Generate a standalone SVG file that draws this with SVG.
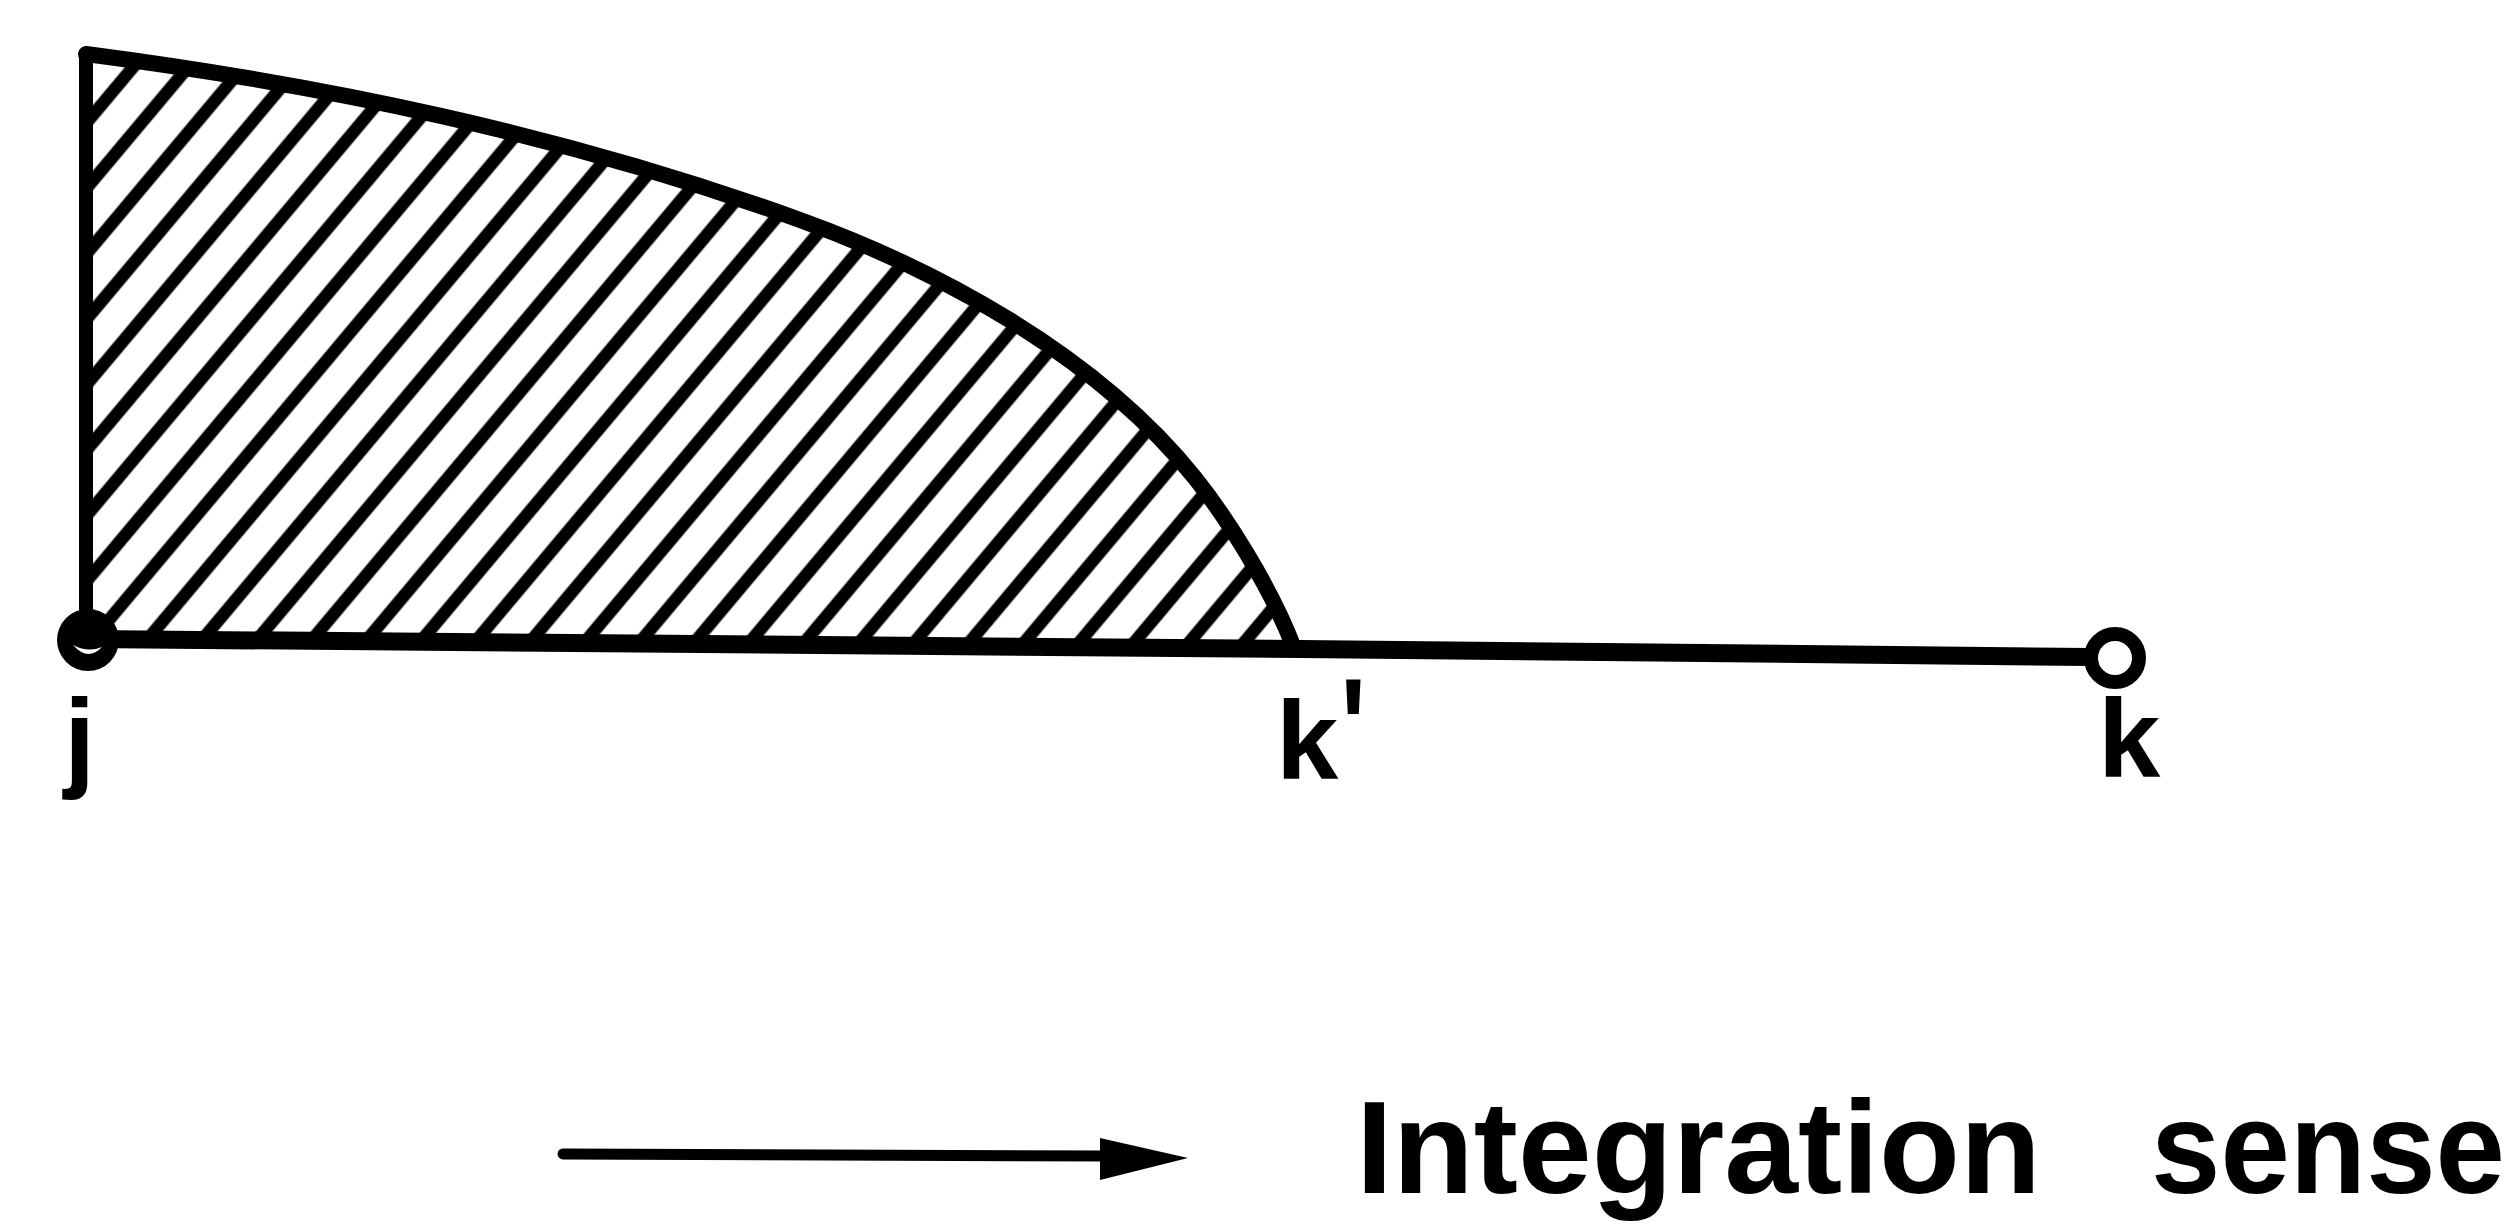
<svg xmlns="http://www.w3.org/2000/svg" width="2520" height="1224" viewBox="0 0 2520 1224">
<style>
.ink{fill:none;stroke:#000;stroke-linecap:round;stroke-linejoin:round}
.lbl{font-family:"Liberation Sans",Arial,sans-serif;font-weight:bold;font-size:112px;fill:#000}
.cap{font-family:"Liberation Sans",Arial,sans-serif;font-weight:bold;font-size:131px;fill:#000}
</style>
<defs>
<pattern id="hatch" patternUnits="userSpaceOnUse" width="20" height="42.1" patternTransform="translate(1242,645) rotate(-50)">
<rect x="0" y="0" width="20" height="6.3" fill="#000"/>
<rect x="0" y="35.8" width="20" height="6.3" fill="#000"/>
</pattern>
</defs>
<rect width="2520" height="1224" fill="#fff"/>
<g id="region">
<path d="M86,640 L86,54 C324,85 562,134 800,220 C932,267.5 1095,353 1195,478 C1225,515.5 1270,585 1292,647 Z" fill="url(#hatch)"/>
<path class="ink" stroke-width="14" d="M86,640 L86,54"/>
<path class="ink" stroke-width="16" d="M86,54 C324,85 562,134 800,220 C932,267.5 1095,353 1195,478 C1225,515.5 1270,585 1294,648"/>
</g>
<g id="connectors">
<path class="ink" stroke-width="18" d="M88,639 L1300,649 L2091,657"/>
</g>
<g id="node-j">
<circle cx="88" cy="640" r="31" fill="#000"/>
<path d="M73,645 Q88,662 102,647 Q88,653 73,645 Z" fill="#fff"/>
<text class="lbl" x="64" y="777">j</text>
</g>
<g id="node-kprime">
<text class="lbl" x="1276" y="779">k<tspan x="1338" y="789" font-weight="normal" font-size="160">'</tspan></text>
</g>
<g id="node-k">
<circle cx="2115" cy="658" r="24" fill="#fff" stroke="#000" stroke-width="14"/>
<text class="lbl" x="2098" y="777">k</text>
</g>
<g id="legend">
<line x1="563" y1="1154" x2="1110" y2="1156" stroke="#000" stroke-width="11" stroke-linecap="round"/>
<polygon points="1100,1138 1188,1158 1100,1180" fill="#000"/>
<text class="cap" y="1193"><tspan x="1356" textLength="685" lengthAdjust="spacingAndGlyphs">Integration</tspan> <tspan x="2151" textLength="354" lengthAdjust="spacingAndGlyphs">sense</tspan></text>
</g>
</svg>
